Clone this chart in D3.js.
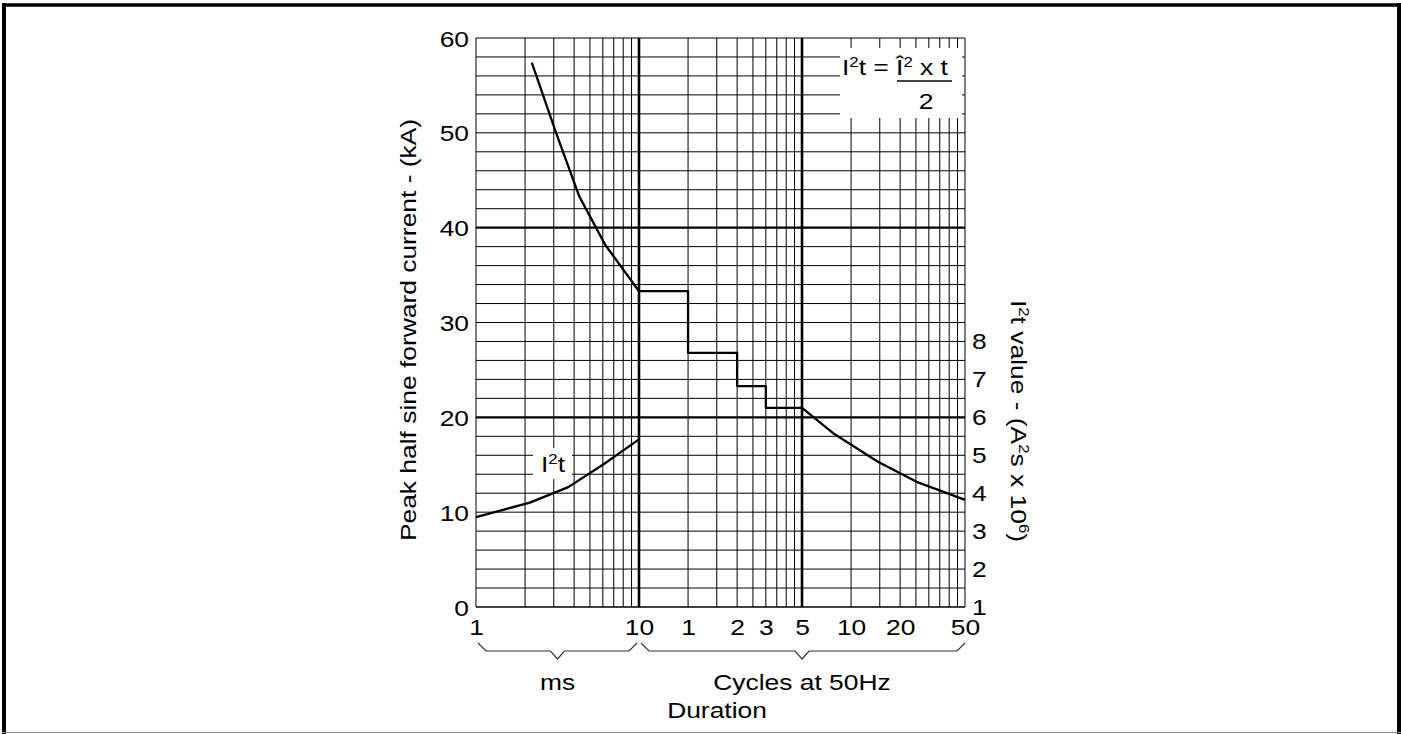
<!DOCTYPE html>
<html>
<head>
<meta charset="utf-8">
<script src="https://cdn.jsdelivr.net/npm/d3@7/dist/d3.min.js"></script>
<style>
  html, body { margin: 0; padding: 0; background: #fff; }
  svg { display: block; }
  text { font-family: "Liberation Sans", Arial, Helvetica, sans-serif; fill: #000; }
</style>
</head>
<body>
<svg id="chart" width="1401" height="734"></svg>
<script>
// ---------------- DATA ----------------
// Duration axis is one log scale in milliseconds (1 cycle at 50 Hz = 20 ms)
const xTickMs      = [1, 10, 20, 40, 60, 100, 200, 400, 1000];
const xTickLabels  = ["1", "10", "1", "2", "3", "5", "10", "20", "50"];
const yLeftTicks   = [0, 10, 20, 30, 40, 50, 60];
const yRightTicks  = [1, 2, 3, 4, 5, 6, 7, 8];

// Peak half sine forward current (kA) – ms region
const peakMs       = [2.2, 3.1, 4.3, 6.2, 10];
const peakKA       = [57.4, 50.0, 43.3, 38.2, 33.3];
// Peak current – stepped region (per whole cycle), step-after
const stepMs       = [10, 20, 40, 60, 100];
const stepKA       = [33.3, 26.8, 23.3, 21.0, 21.0];
// Peak current – tail
const tailMs       = [100, 156, 294, 505, 1000];
const tailKA       = [21.0, 18.3, 15.3, 13.2, 11.3];
// I²t value (A²s x 10^6)
const i2tMs        = [1, 2.14, 3.68, 6.0, 10];
const i2tVal       = [3.37, 3.75, 4.16, 4.75, 5.42];

// ---------------- LAYOUT ----------------
const svg = d3.select("#chart");
const L = 476, R = 965, T = 38, B = 607;
const FS = 22, SX = 1.2;   // font size and horizontal stretch of the lettering

const x  = d3.scaleLog().domain([1, 1000]).range([L, R]);
const y  = d3.scaleLinear().domain([0, 60]).range([B, T]);
const y2 = d3.scaleLinear().domain([1, 16]).range([B, T]);

// frame
svg.append("line").attr("x1", 4).attr("x2", 4).attr("y1", 3).attr("y2", 734).attr("stroke", "#000").attr("stroke-width", 4);
svg.append("line").attr("x1", 2).attr("x2", 1401).attr("y1", 5).attr("y2", 5).attr("stroke", "#000").attr("stroke-width", 3.5);
svg.append("line").attr("x1", 1399).attr("x2", 1399).attr("y1", 3).attr("y2", 734).attr("stroke", "#000").attr("stroke-width", 4);
svg.append("line").attr("x1", 2).attr("x2", 1401).attr("y1", 732.5).attr("y2", 732.5).attr("stroke", "#888").attr("stroke-width", 1);

// grid
const grid = svg.append("g");
const hVals = d3.range(0, 61, 2);
grid.selectAll("line.h").data(hVals).join("line")
  .attr("x1", L).attr("x2", R)
  .attr("y1", d => y(d)).attr("y2", d => y(d))
  .attr("stroke", "#000")
  .attr("stroke-width", d => (d === 20 || d === 40) ? 2.2 : (d === 0 ? 1.6 : 1));

const vVals = [];
[1, 10, 100].forEach(dec => { for (let k = 1; k < 10; k++) vVals.push(dec * k); });
vVals.push(1000);
grid.selectAll("line.v").data(vVals).join("line")
  .attr("x1", d => x(d)).attr("x2", d => x(d))
  .attr("y1", T).attr("y2", B)
  .attr("stroke", "#000")
  .attr("stroke-width", d => (d === 10 || d === 100) ? 2.6 : 1);

// formula box (white, covers grid)
svg.append("rect").attr("x", 840).attr("y", 48).attr("width", 122).attr("height", 70).attr("fill", "#fff");

// curves
const line = d3.line().x(d => x(d[0])).y(d => y(d[1]));
const stroke = { fill: "none", stroke: "#000", "stroke-width": 2.3, "stroke-linejoin": "round" };
function drawPath(data, gen) {
  const p = svg.append("path").datum(data).attr("d", gen);
  Object.entries(stroke).forEach(([k, v]) => p.attr(k, v));
}
drawPath(peakMs.map((m, i) => [m, peakKA[i]]), line);
drawPath(stepMs.map((m, i) => [m, stepKA[i]]), d3.line().x(d => x(d[0])).y(d => y(d[1])).curve(d3.curveStepAfter));
drawPath(tailMs.map((m, i) => [m, tailKA[i]]), line);
drawPath(i2tMs.map((m, i) => [m, i2tVal[i]]), d3.line().x(d => x(d[0])).y(d => y2(d[1])));

// I²t curve label
svg.append("rect").attr("x", 533).attr("y", 448).attr("width", 39).attr("height", 31).attr("fill", "#fff");
function stretchedText(xp, yp, rot, anchor) {
  const g = svg.append("g").attr("transform", `translate(${xp},${yp}) rotate(${rot}) scale(${SX},1)`);
  return g.append("text").attr("text-anchor", anchor).attr("font-size", FS);
}
{
  const t = stretchedText(541, 472, 0, "start");
  t.append("tspan").text("I");
  t.append("tspan").attr("font-size", 14).attr("dy", -8).text("2");
  t.append("tspan").attr("dy", 8).text("t");
}

// formula
{
  const t = stretchedText(842, 75, 0, "start");
  t.append("tspan").text("I");
  t.append("tspan").attr("font-size", 14).attr("dy", -8).text("2");
  t.append("tspan").attr("dy", 8).text("t = Î");
  t.append("tspan").attr("font-size", 14).attr("dy", -8).text("2");
  t.append("tspan").attr("dy", 8).text(" x t");
  svg.append("line").attr("x1", 897).attr("x2", 952).attr("y1", 81).attr("y2", 81).attr("stroke", "#000").attr("stroke-width", 1.5);
  stretchedText(926, 109, 0, "middle").text("2");
}

// axes (labels only)
function styleAxis(g, tx, ty) {
  g.select(".domain").remove();
  g.selectAll(".tick line").remove();
  g.selectAll(".tick text")
    .attr("x", 0).attr("y", 0)
    .attr("font-size", FS)
    .attr("font-family", "'Liberation Sans', Arial, Helvetica, sans-serif")
    .attr("fill", "#000")
    .attr("transform", `translate(${tx},${ty}) scale(${SX},1)`);
}
const gl = svg.append("g").attr("transform", `translate(${L},0)`)
  .call(d3.axisLeft(y).tickValues(yLeftTicks).tickSize(0).tickFormat(d3.format("d")));
styleAxis(gl, -7, 1);

const gr = svg.append("g").attr("transform", `translate(${R},0)`)
  .call(d3.axisRight(y2).tickValues(yRightTicks).tickSize(0).tickFormat(d3.format("d")));
styleAxis(gr, 7, 0);

const gb = svg.append("g").attr("transform", `translate(0,${B})`)
  .call(d3.axisBottom(x).tickValues(xTickMs).tickSize(0).tickFormat((d, i) => xTickLabels[i]));
styleAxis(gb, 0, 12.5);

// braces under duration axis
function brace(a, b, c) {
  return `M${a},643 L${a + 8},651 L${c - 7},651 L${c},659 L${c + 7},651 L${b - 8},651 L${b},643`;
}
svg.append("path").attr("d", brace(x(1) + 2, x(10) - 2, x(Math.sqrt(10))))
  .attr("fill", "none").attr("stroke", "#333").attr("stroke-width", 1.2);
svg.append("path").attr("d", brace(x(10) + 2, x(1000), x(100)))
  .attr("fill", "none").attr("stroke", "#333").attr("stroke-width", 1.2);

stretchedText(x(Math.sqrt(10)), 690, 0, "middle").text("ms");
stretchedText(x(100), 690, 0, "middle").text("Cycles at 50Hz");
stretchedText(717, 718, 0, "middle").text("Duration");

// axis titles
stretchedText(416, 330, -90, "middle").text("Peak half sine forward current - (kA)");
{
  const t = stretchedText(1011, 421, 90, "middle");
  t.append("tspan").text("I");
  t.append("tspan").attr("font-size", 14).attr("dy", -8).text("2");
  t.append("tspan").attr("dy", 8).text("t value - (A");
  t.append("tspan").attr("font-size", 14).attr("dy", -8).text("2");
  t.append("tspan").attr("dy", 8).text("s x 10");
  t.append("tspan").attr("font-size", 14).attr("dy", -8).text("6");
  t.append("tspan").attr("dy", 8).text(")");
}
</script>
</body>
</html>
